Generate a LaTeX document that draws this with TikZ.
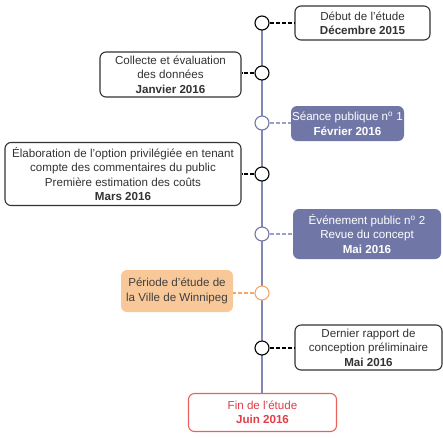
\documentclass[tikz,border=0pt]{standalone}
\usepackage{fontspec}
\setmainfont{Liberation Sans}
\definecolor{lineblue}{HTML}{8288B4}
\definecolor{boxblue}{HTML}{7077A6}
\definecolor{dashblue}{HTML}{9A9FC6}
\definecolor{boxorange}{HTML}{F9C898}
\definecolor{lineorange}{HTML}{F5A66A}
\definecolor{boxred}{HTML}{E8625C}
\definecolor{textred}{HTML}{E23E48}
\definecolor{txtgray}{HTML}{333333}
\begin{document}
\begin{tikzpicture}[x=1pt,y=-1pt,
  every node/.style={font=\fontsize{11.6}{14.4}\selectfont, align=center, inner sep=0pt},
  evbox/.style={draw=black!80, line width=1.1pt, rounded corners=6pt, fill=white, text=txtgray},
  bluebox/.style={fill=boxblue, rounded corners=6pt, text=white},
  orangebox/.style={fill=boxorange, rounded corners=6pt, text=black!75},
  redbox/.style={draw=boxred, line width=1.1pt, rounded corners=6pt, fill=white, text=textred},
  dot/.style={circle, draw=black, line width=1.1pt, fill=white, minimum size=14pt},
  bluedot/.style={circle, draw=boxblue, line width=1.1pt, fill=white, minimum size=14pt},
  orangedot/.style={circle, draw=lineorange, line width=1.1pt, fill=white, minimum size=14pt},
  blkdash/.style={line width=1.8pt, dash pattern=on 4pt off 2pt, black},
  bludash/.style={line width=1.6pt, dash pattern=on 4pt off 2pt, dashblue},
  ordash/.style={line width=1.6pt, dash pattern=on 4pt off 2pt, lineorange}
]
\useasboundingbox (0,0) rectangle (443,437);
% boxes
\node[evbox, minimum width=135pt, minimum height=34pt] (b1) at (362.5,23) {Début de l’étude\\\textbf{Décembre 2015}};
\node[evbox, minimum width=141pt, minimum height=45pt] (b2) at (170.5,74.5) {Collecte et évaluation\\des données\\\textbf{Janvier 2016}};
\node[bluebox, minimum width=113pt, minimum height=35pt] (b3) at (347.5,123.5) {Séance publique n\textsuperscript{o} 1\\\textbf{Février 2016}};
\node[evbox, minimum width=236pt, minimum height=63pt] (b4) at (123,174) {Élaboration de l’option privilégiée en tenant\\compte des commentaires du public\\Première estimation des coûts\\\textbf{Mars 2016}};
\node[bluebox, minimum width=148pt, minimum height=50pt] (b5) at (367,234) {Événement public n\textsuperscript{o} 2\\Revue du concept\\\textbf{Mai 2016}};
\node[orangebox, minimum width=112pt, minimum height=42pt] (b6) at (177,291) {Période d’étude de\\la Ville de Winnipeg};
\node[evbox, minimum width=147pt, minimum height=45pt] (b7) at (368.5,347.5) {Dernier rapport de\\conception préliminaire\\\textbf{Mai 2016}};
\node[redbox, minimum width=148pt, minimum height=38pt] (b8) at (262.5,412.5) {Fin de l’étude\\\textbf{Juin 2016}};
% timeline
\coordinate (top) at (262,23);
\draw[lineblue, line width=2.6pt] (top) -- (b8.north -| top);
% dots
\node[dot] (c1) at (262,23) {};
\node[dot] (c2) at (262,73) {};
\node[bluedot] (c3) at (262,123) {};
\node[dot] (c4) at (262,174) {};
\node[bluedot] (c5) at (262,234) {};
\node[orangedot] (c6) at (262,293) {};
\node[dot] (c7) at (262,348) {};
% connectors
\draw[blkdash] (c1.east) -- (c1.east -| b1.west);
\draw[blkdash] (c2.west) -- (c2.west -| b2.east);
\draw[bludash] (c3.east) -- (c3.east -| b3.west);
\draw[blkdash] (c4.west) -- (c4.west -| b4.east);
\draw[bludash] (c5.east) -- (c5.east -| b5.west);
\draw[ordash] (c6.west) -- (c6.west -| b6.east);
\draw[blkdash] (c7.east) -- (c7.east -| b7.west);
\end{tikzpicture}
\end{document}
